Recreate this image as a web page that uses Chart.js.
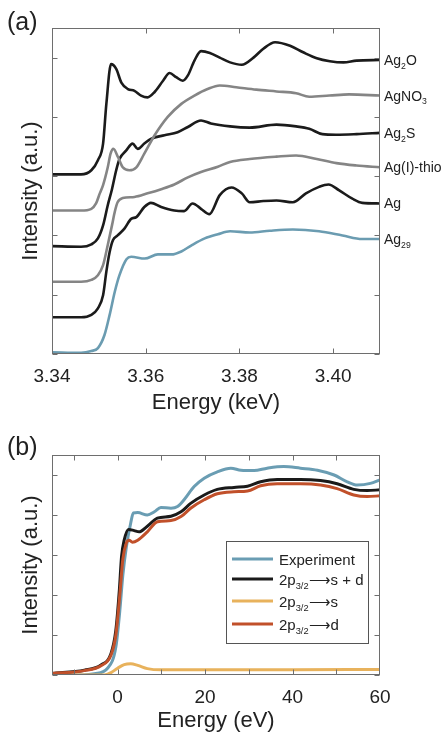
<!DOCTYPE html>
<html>
<head>
<meta charset="utf-8">
<script src="https://cdn.jsdelivr.net/npm/chart.js@4.4.1/dist/chart.umd.min.js"></script>
<style>
  html, body { margin: 0; padding: 0; background: #fff; }
  #wrap { position: relative; width: 447px; height: 734px; overflow: hidden; }
  canvas { position: absolute; left: 0; }
  #chartA { top: 0; }
  #chartB { top: 420px; }
</style>
</head>
<body>
<div id="wrap">
  <canvas id="chartA" width="447" height="420"></canvas>
  <canvas id="chartB" width="447" height="314"></canvas>
</div>
<script>
// ---- panel (a): Ag L3-edge XANES, energy (keV) vs offset intensity ----
const aTicksX = [3.34, 3.36, 3.38, 3.40];
const aTicksY = [0, 1, 2, 3, 4, 5];
const aLabels = ['Ag_{2}O', 'AgNO_{3}', 'Ag_{2}S', 'Ag(I)-thio', 'Ag', 'Ag_{29}'];

const ag2o = [[3.340,3.03],[3.3462,3.03],[3.3484,3.10],[3.3498,3.27],[3.3509,3.55],[3.3516,4.22],[3.3526,4.89],
  [3.3537,4.81],[3.3548,4.58],[3.3562,4.47],[3.3576,4.44],[3.3590,4.36],[3.3604,4.33],[3.3619,4.42],[3.3637,4.61],
  [3.3651,4.74],[3.3665,4.67],[3.3679,4.61],[3.3690,4.70],[3.3704,4.95],[3.3718,5.11],[3.3737,5.08],[3.3758,5.00],
  [3.3780,4.92],[3.3805,4.88],[3.3830,5.00],[3.3851,5.15],[3.3876,5.26],[3.3908,5.20],[3.3936,5.09],[3.3965,4.99],
  [3.3993,4.94],[3.4022,4.92],[3.4050,4.95],[3.4100,4.96]];
const agno3 = [[3.340,2.42],[3.3462,2.42],[3.3484,2.45],[3.3494,2.54],[3.3502,2.71],[3.3509,2.85],[3.3519,3.15],
  [3.3525,3.38],[3.3531,3.46],[3.3541,3.32],[3.3551,3.15],[3.3565,3.10],[3.3580,3.15],[3.3597,3.38],[3.3619,3.69],
  [3.3647,4.00],[3.3676,4.22],[3.3704,4.36],[3.3732,4.47],[3.3758,4.53],[3.3793,4.50],[3.3836,4.46],[3.3879,4.43],
  [3.3921,4.40],[3.3949,4.34],[3.3992,4.36],[3.4034,4.38],[3.4100,4.36]];
const ag2s = [[3.340,1.82],[3.3462,1.81],[3.3484,1.85],[3.3498,1.95],[3.3509,2.17],[3.3519,2.51],[3.3528,2.78],
  [3.3537,3.10],[3.3544,3.29],[3.3558,3.43],[3.3572,3.55],[3.3583,3.46],[3.3597,3.55],[3.3611,3.63],[3.3640,3.69],
  [3.3668,3.74],[3.3690,3.83],[3.3718,3.94],[3.3739,3.89],[3.3780,3.84],[3.3822,3.82],[3.3879,3.87],[3.3921,3.84],
  [3.3949,3.80],[3.3977,3.71],[3.4006,3.70],[3.4050,3.71],[3.4100,3.73]];
const agThio = [[3.340,1.22],[3.3462,1.22],[3.3484,1.25],[3.3498,1.33],[3.3509,1.50],[3.3519,1.84],[3.3528,2.17],
  [3.3534,2.40],[3.3540,2.56],[3.3551,2.63],[3.3576,2.65],[3.3604,2.71],[3.3633,2.78],[3.3661,2.86],[3.3690,2.98],
  [3.3718,3.07],[3.3754,3.16],[3.3780,3.24],[3.3822,3.29],[3.3879,3.33],[3.3921,3.35],[3.3965,3.29],[3.4007,3.22],
  [3.4050,3.18],[3.4100,3.15]];
const agFoil = [[3.340,0.62],[3.3462,0.62],[3.3484,0.66],[3.3498,0.77],[3.3509,0.99],[3.3516,1.39],[3.3523,1.72],
  [3.3530,1.92],[3.3540,2.00],[3.3555,2.12],[3.3569,2.28],[3.3580,2.31],[3.3597,2.48],[3.3611,2.55],[3.3633,2.48],
  [3.3661,2.42],[3.3682,2.41],[3.3700,2.54],[3.3718,2.45],[3.3736,2.36],[3.3758,2.68],[3.3783,2.81],[3.3805,2.71],
  [3.3822,2.56],[3.3851,2.58],[3.3879,2.59],[3.3914,2.56],[3.3942,2.71],[3.3970,2.82],[3.3990,2.86],[3.4013,2.76],
  [3.4041,2.62],[3.4062,2.55],[3.4100,2.54]];
const ag29 = [[3.340,0.03],[3.3462,0.02],[3.3484,0.05],[3.3498,0.10],[3.3512,0.32],[3.3523,0.66],[3.3534,1.05],
  [3.3544,1.33],[3.3559,1.60],[3.3569,1.64],[3.3598,1.61],[3.3626,1.68],[3.3655,1.68],[3.3676,1.73],[3.3697,1.83],
  [3.3726,1.95],[3.3754,2.02],[3.3780,2.07],[3.3822,2.05],[3.3865,2.08],[3.3914,2.10],[3.3970,2.07],[3.4020,2.00],
  [3.4062,1.94],[3.4100,1.94]];

// ---- panel (b): experiment vs calculated 2p3/2 transitions, energy (eV) ----
const bTicksX = [-10, 0, 10, 20, 30, 40, 50];
const bTickLabelsX = [0, 20, 40, 60];
const bTicksY = [0, 1, 2, 3, 4, 5];
const bLabels = ['Experiment', '2p_{3/2}\u27F6s + d', '2p_{3/2}\u27F6s', '2p_{3/2}\u27F6d'];

const bExp = [[-15,0.0],[-8,0.0],[-5.3,0.03],[-2.3,0.17],[-0.4,0.7],[0.5,1.6],[1.2,2.5],[2.0,3.2],[3.0,3.8],
  [3.6,4.05],[4.6,4.06],[6.8,4.0],[8.4,4.08],[9.9,4.19],[12.2,4.17],[13.7,4.21],[15.2,4.38],[17.5,4.71],[19.8,4.92],
  [22.8,5.08],[25.9,5.17],[28.2,5.12],[31.2,5.11],[34.2,5.17],[38.0,5.21],[41.8,5.17],[45.7,5.12],[49.5,5.0],
  [52.5,4.83],[54.8,4.75],[57.8,4.79],[60,4.88]];
const bSD = [[-15,0.04],[-7.6,0.12],[-3.8,0.25],[-1.5,0.54],[-0.4,1.12],[0.4,2.12],[0.9,2.96],[1.5,3.37],[2.5,3.64],
  [3.8,3.61],[4.9,3.58],[6.8,3.72],[9.1,3.92],[12.2,3.97],[14.5,4.08],[16.7,4.29],[19.8,4.5],[22.8,4.64],[26.6,4.69],
  [29.7,4.72],[32.7,4.83],[36.5,4.89],[41.8,4.89],[46.4,4.86],[50.2,4.78],[54.0,4.64],[57.1,4.61],[60,4.63]];
const bS = [[-15,0.0],[-3,0.0],[-1.5,0.06],[0,0.17],[1.5,0.26],[3.0,0.28],[4.6,0.24],[6.8,0.16],[9.9,0.13],
  [20,0.13],[40,0.13],[60,0.14]];
const bD = [[-15,0.04],[-7.6,0.11],[-3.8,0.23],[-1.5,0.5],[-0.4,1.0],[0.5,2.0],[1.2,2.9],[2.0,3.3],[2.6,3.37],
  [3.4,3.32],[4.6,3.37],[6.8,3.58],[9.1,3.83],[12.2,3.86],[14.5,3.96],[16.7,4.17],[19.8,4.38],[22.8,4.53],[26.6,4.58],
  [29.7,4.6],[32.7,4.73],[36.5,4.78],[41.8,4.78],[46.4,4.75],[50.2,4.66],[54.0,4.5],[57.1,4.46],[60,4.48]];

const FONT = "'Liberation Sans', Arial, Helvetica, sans-serif";
const BLACK = '#1b1b1b', GREY = '#858585', TEAL = '#6b9cb1';
Chart.defaults.font.family = FONT;
Chart.defaults.color = '#222';

const pts = arr => arr.map(([x, y]) => ({ x, y }));

// draws text with _{...} parts as subscripts, baseline at y
function richText(ctx, text, x, y, size) {
  const parts = text.split(/(_\{[^}]*\})/).filter(Boolean);
  for (const p of parts) {
    const sub = p.startsWith('_{');
    const t = sub ? p.slice(2, -1) : p;
    const s = sub ? size * 0.62 : size;
    ctx.font = `${s}px ${FONT}`;
    ctx.fillText(t, x, sub ? y + size * 0.28 : y);
    x += ctx.measureText(t).width;
  }
}

// boxed axes with inward ticks, panel letter
const frame = {
  id: 'frame',
  afterDatasetsDraw(chart, args, o) {
    const { ctx, chartArea: a, scales: { x, y } } = chart;
    const L = Math.round(a.left) + 0.5, R = Math.round(a.right) - 0.5;
    const T = Math.round(a.top) + 0.5, B = Math.round(a.bottom) - 0.5;
    ctx.save();
    ctx.strokeStyle = '#6e6e6e';
    ctx.lineWidth = 1;
    ctx.strokeRect(L, T, R - L, B - T);
    ctx.beginPath();
    o.xTicks.forEach(v => {
      const px = Math.round(x.getPixelForValue(v)) + 0.5;
      ctx.moveTo(px, B); ctx.lineTo(px, B - 5);
      ctx.moveTo(px, T); ctx.lineTo(px, T + 5);
    });
    o.yTicks.forEach(v => {
      const py = Math.round(y.getPixelForValue(v)) + 0.5;
      ctx.moveTo(L, py); ctx.lineTo(L + 5, py);
      ctx.moveTo(R, py); ctx.lineTo(R - 5, py);
    });
    ctx.stroke();
    ctx.fillStyle = '#222';
    ctx.font = `25px ${FONT}`;
    ctx.textBaseline = 'middle';
    ctx.fillText(o.letter, 7, o.letterY);
    ctx.restore();
  }
};

// names at the right end of each stacked curve
const endLabels = {
  id: 'endLabels',
  afterDraw(chart, args, o) {
    if (!o.labels) return;
    const { ctx, chartArea: a, scales: { y } } = chart;
    ctx.save();
    ctx.fillStyle = '#222';
    ctx.textBaseline = 'alphabetic';
    chart.data.datasets.forEach((ds, i) => {
      const last = ds.data[ds.data.length - 1];
      const cy = y.getPixelForValue(last.y);
      richText(ctx, o.labels[i], a.right + 4, cy + 5, 14);
    });
    ctx.restore();
  }
};

// boxed legend with subscripted entries
const boxLegend = {
  id: 'boxLegend',
  afterDraw(chart, args, o) {
    if (!o.labels) return;
    const { ctx, chartArea: a } = chart;
    const right = a.right - 12, left = right - 142, top = a.top + 86, h = 102;
    const rows = [18, 38, 60, 83];
    ctx.save();
    ctx.fillStyle = '#fff';
    ctx.fillRect(left, top, right - left, h);
    ctx.strokeStyle = '#555';
    ctx.lineWidth = 1;
    ctx.strokeRect(Math.round(left) + 0.5, Math.round(top) + 0.5, right - left, h);
    o.order.forEach((di, i) => {
      const ds = chart.data.datasets[di];
      const cy = top + rows[i];
      ctx.strokeStyle = ds.borderColor;
      ctx.lineWidth = 3;
      ctx.beginPath();
      ctx.moveTo(left + 6, cy); ctx.lineTo(left + 47, cy);
      ctx.stroke();
      ctx.fillStyle = '#222';
      ctx.textBaseline = 'alphabetic';
      richText(ctx, o.labels[i], left + 53, cy + 5.5, 15);
    });
    ctx.restore();
  }
};

function line(data, color, width, order) {
  return {
    data: pts(data), borderColor: color, borderWidth: width, pointRadius: 0,
    cubicInterpolationMode: 'monotone', fill: false, order
  };
}

function axes(xMin, xMax, xLabelTicks, fmt, yMax, xH) {
  return {
    x: {
      type: 'linear', min: xMin, max: xMax,
      grid: { display: false }, border: { display: false },
      afterBuildTicks: s => { s.ticks = xLabelTicks.map(v => ({ value: v })); },
      afterFit: s => { s.height = xH; },
      ticks: { autoSkip: false, maxRotation: 0, padding: 3, font: { size: 19 }, color: '#222', callback: fmt },
      title: { display: true, text: '', font: { size: 22 }, color: '#222', padding: { top: 0, bottom: 4 } }
    },
    y: {
      type: 'linear', min: 0, max: yMax,
      grid: { display: false }, border: { display: false },
      ticks: { display: false },
      afterFit: s => { s.width = 52; },
      title: { display: true, text: 'Intensity (a.u.)', font: { size: 22 }, color: '#222', padding: { top: 18, bottom: 0 } }
    }
  };
}

const scalesA = axes(3.34, 3.41, aTicksX, v => v.toFixed(2), 5.5, 66);
scalesA.x.title.text = 'Energy (keV)';

new Chart(document.getElementById('chartA'), {
  type: 'line',
  data: {
    datasets: [
      line(ag2o, BLACK, 2.6, 0),
      line(agno3, GREY, 2.6, 1),
      line(ag2s, BLACK, 2.6, 2),
      line(agThio, GREY, 2.6, 3),
      line(agFoil, BLACK, 2.6, 4),
      line(ag29, TEAL, 2.6, 5)
    ]
  },
  options: {
    responsive: false, animation: false, events: [],
    layout: { padding: { top: 28, right: 67, left: 0, bottom: 0 } },
    scales: scalesA,
    plugins: {
      legend: { display: false }, tooltip: { enabled: false },
      frame: { xTicks: aTicksX, yTicks: aTicksY, letter: '(a)', letterY: 23 },
      endLabels: { labels: aLabels }
    }
  },
  plugins: [frame, endLabels]
});

const scalesB = axes(-15, 60, bTickLabelsX, v => String(v), 5.5, 59);
scalesB.x.title.text = 'Energy (eV)';
scalesB.x.title.padding = { top: 0, bottom: 0 };

new Chart(document.getElementById('chartB'), {
  type: 'line',
  data: {
    datasets: [
      line(bExp, '#6a9db3', 3, 3),
      line(bSD, '#1a1a1a', 3, 2),
      line(bS, '#e8b25c', 3, 1),
      line(bD, '#c1502a', 3, 0)
    ]
  },
  options: {
    responsive: false, animation: false, events: [],
    layout: { padding: { top: 35, right: 67, left: 0, bottom: 0 } },
    scales: scalesB,
    plugins: {
      legend: { display: false }, tooltip: { enabled: false },
      frame: { xTicks: bTicksX, yTicks: bTicksY, letter: '(b)', letterY: 28 },
      boxLegend: { labels: bLabels, order: [0, 1, 2, 3] }
    }
  },
  plugins: [frame, boxLegend]
});
</script>
</body>
</html>
